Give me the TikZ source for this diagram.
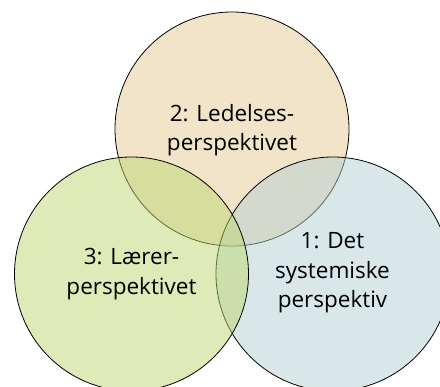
\documentclass[tikz,border=0pt]{standalone}
\usepackage{fontspec}
\setmainfont{Open Sans}
\definecolor{topc}{RGB}{229,201,145}
\definecolor{leftc}{RGB}{189,215,115}
\definecolor{rightc}{RGB}{181,207,209}
\tikzset{
  venn/.style={circle, minimum size=234pt, inner sep=0pt, draw=black, line width=0.8pt, fill opacity=0.5, text opacity=1},
  lbl/.style={align=center, font=\fontsize{22.5}{29.5}\selectfont, text=black}
}
\begin{document}
\begin{tikzpicture}[x=1pt,y=-1pt]
\useasboundingbox (0,0) rectangle (440,387);
\begin{scope}
\clip (0,0) rectangle (440,387);
\node[venn, fill=topc] (top) at (232,129) {};
\node[venn, fill=rightc] (right) at (333,274) {};
\node[venn, fill=leftc] (left) at (131.5,274) {};
\end{scope}
\node[lbl] (ttop) at (232,130) {2: Ledelses-\\perspektivet};
\node[lbl] (tleft) at (131.5,274) {3: Lærer-\\perspektivet};
\node[lbl] (tright) at (332.5,273) {1: Det\\systemiske\\perspektiv};
\end{tikzpicture}
\end{document}
